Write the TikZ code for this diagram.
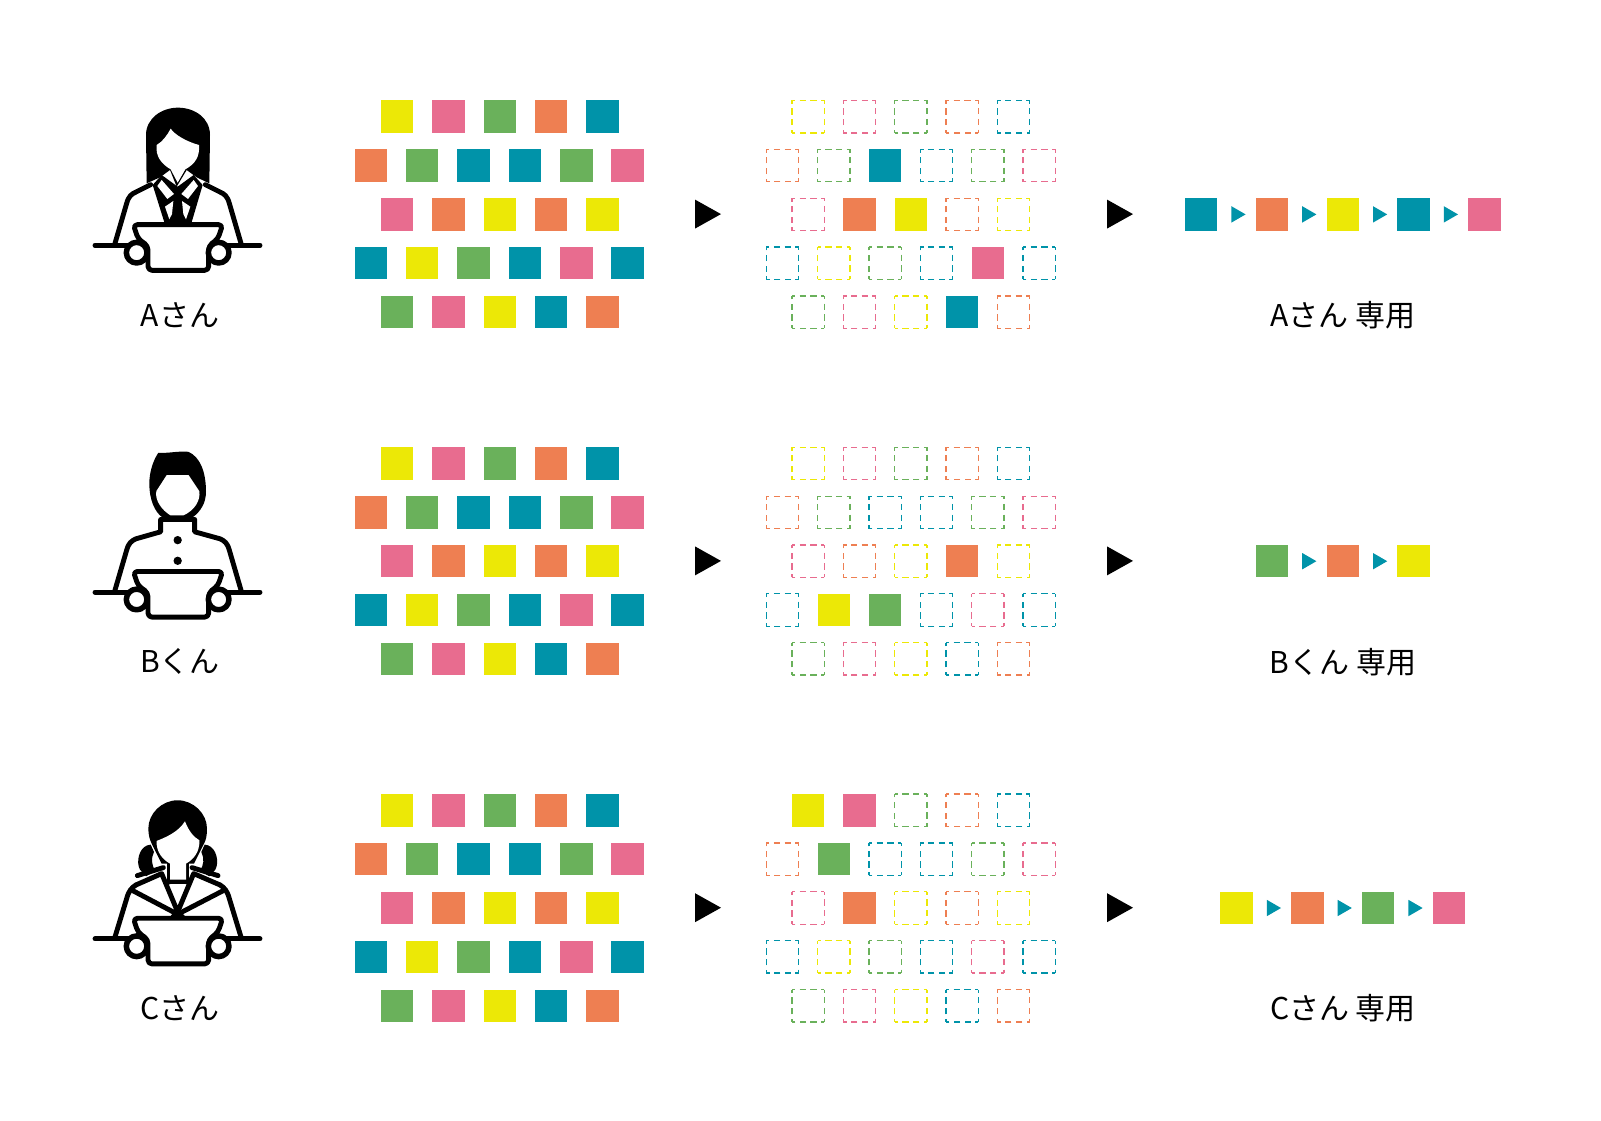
\documentclass[tikz,border=0pt]{standalone}
\usepackage{fontspec}
\setmainfont{Noto Sans CJK JP}
\definecolor{cY}{HTML}{ECE806}
\definecolor{cP}{HTML}{E86C8F}
\definecolor{cG}{HTML}{6AB15B}
\definecolor{cO}{HTML}{EE7F52}
\definecolor{cT}{HTML}{0093A9}
\tikzset{
  sq/.style={fill=#1,draw=none,minimum size=32.4pt,inner sep=0pt,outer sep=0pt,anchor=north west},
  dsq/.style={draw=none,fill=none,minimum size=32.4pt,inner sep=0pt,outer sep=0pt,anchor=north west},
  dedge/.style={draw=#1,line width=1.25pt,dash pattern=on 6.3pt off 4.4pt,dash phase=3.05pt},
  lbl/.style={font=\fontsize{30}{33}\selectfont,text=black,inner sep=0pt},
  ink/.style={draw=black,line width=4.9pt,line cap=round,line join=round},
  icon/.style={x=0.33333pt,y=-0.33333pt},
  bigarrow/.style={fill=black,draw=none},
  smallarrow/.style={fill=cT,draw=none},
}
% dashed square: #1 name, #2 x, #3 y, #4 colour
\newcommand{\dashsq}[4]{%
  \node[dsq] (#1) at (#2,#3) {};
  \draw[dedge=#4] (#1.north west) -- (#1.north east);
  \draw[dedge=#4] (#1.north east) -- (#1.south east);
  \draw[dedge=#4] (#1.south east) -- (#1.south west);
  \draw[dedge=#4] (#1.south west) -- (#1.north west);
}
% shared part of all three figures
\newcommand{\deskpart}{%
  \draw[ink] (45,466) -- (540,466);
  \filldraw[ink,fill=white,rounded corners=4pt] (160,404) -- (428,404) -- (414,446) -- (386,468) -- (386,541) -- (204,541) -- (204,468) -- (174,446) -- cycle;
  \filldraw[ink,fill=white,line width=5.5pt] (170,488) circle (31);
  \filldraw[ink,fill=white,line width=5.5pt] (416,488) circle (31);
}
\begin{document}
\begin{tikzpicture}[x=1pt,y=-1pt]
\useasboundingbox (0,0) rectangle (1601,1121);
\fill[white] (0,0) rectangle (1601,1121);

\foreach \g/\oy in {1/0,2/346.8,3/693.6}{
  \foreach \r/\rn/\cols in {1/1/{Y,P,G,O,T},2/2/{O,G,T,T,G,P},3/3/{P,O,Y,O,Y},4/4/{T,Y,G,T,P,T},5/5/{G,P,Y,T,O}}{
    \pgfmathsetmacro{\yy}{100.5+(\r-1)*48.85+\oy}
    \pgfmathsetmacro{\xa}{mod(\r,2)==1 ? 380.8 : 354.7}
    \pgfmathsetmacro{\xb}{mod(\r,2)==1 ? 792.0 : 766.2}
    \foreach \c [count=\i] in \cols {
      \pgfmathsetmacro{\xx}{\xa+(\i-1)*51.35}
      \node[sq=c\c] (m\g r\r c\i) at (\xx,\yy) {};
      \pgfmathsetmacro{\xz}{\xb+(\i-1)*51.35}
      % filled picks in the second column
      \edef\key{\g-\r-\i}
      \foreach \k in {1-2-3,1-3-2,1-3-3,1-4-5,1-5-4,2-3-4,2-4-2,2-4-3,3-1-1,3-1-2,3-2-2,3-3-2}{
        \ifx\k\key\global\let\gfilled\k\fi
      }
      \ifdefined\gfilled
        \ifx\gfilled\key
          \node[sq=c\c] (p\g r\r c\i) at (\xz,\yy) {};
        \else
          \dashsq{p\g r\r c\i}{\xz}{\yy}{c\c}
        \fi
      \else
        \dashsq{p\g r\r c\i}{\xz}{\yy}{c\c}
      \fi
    }
  }
  % big arrows
  \pgfmathsetmacro{\ay}{214.1+\oy}
  \coordinate (ba\g) at (695,\ay);
  \coordinate (bb\g) at (1107,\ay);
  \fill[bigarrow] (ba\g) ++(0,-14.5) -- ++(26,14.5) -- ++(-26,14.5) -- cycle;
  \fill[bigarrow] (bb\g) ++(0,-14.5) -- ++(26,14.5) -- ++(-26,14.5) -- cycle;
}

% result chains
\newcommand{\chain}[3]{% #1 group, #2 start x, #3 colours
  \pgfmathsetmacro{\cy}{198.2+(#1-1)*346.8}
  \foreach \c [count=\i] in {#3}{
    \pgfmathsetmacro{\xx}{#2+(\i-1)*70.8}
    \node[sq=c\c] (r#1c\i) at (\xx,\cy) {};
  }
}
\chain{1}{1185}{T,O,Y,T,P}
\chain{2}{1255.8}{G,O,Y}
\chain{3}{1220.4}{Y,O,G,P}
\foreach \a/\b in {r1c1/r1c2,r1c2/r1c3,r1c3/r1c4,r1c4/r1c5,r2c1/r2c2,r2c2/r2c3,r3c1/r3c2,r3c2/r3c3,r3c3/r3c4}{
  \fill[smallarrow] (\a.east) ++(14,-8.2) -- ++(14.2,8.2) -- ++(-14.2,8.2) -- cycle;
}

% labels
\node[lbl] (la) at (180,315) {Aさん};
\node[lbl] (lb) at (180,661.8) {Bくん};
\node[lbl] (lc) at (180,1008.6) {Cさん};
\node[lbl] (ra) at (1343,315) {Aさん 専用};
\node[lbl] (rb) at (1343,661.8) {Bくん 専用};
\node[lbl] (rc) at (1343,1008.6) {Cさん 専用};

% Person A
\begin{scope}[shift={(80,90)},icon]
  \draw[ink] (105,460) -- (140,340) .. controls (146,318) and (155,312) .. (168,306) -- (212,284);
  \draw[ink] (483,460) -- (448,340) .. controls (442,318) and (433,312) .. (420,306) -- (376,284);
  \fill[black] (218,285) -- (245,255) -- (293,290) -- (341,255) -- (368,285) -- (334,400) -- (254,400) -- cycle;
  \fill[white] (245,270) -- (282,312) -- (262,327) -- (232,288) -- cycle;
  \fill[white] (341,270) -- (304,312) -- (324,327) -- (354,288) -- cycle;
  \fill[white] (255,350) -- (280,333) -- (276,372) -- (268,388) -- cycle;
  \fill[white] (331,350) -- (306,333) -- (310,372) -- (318,388) -- cycle;
  \fill[black] (200,280) -- (198,135) .. controls (198,85) and (245,53) .. (294,53) .. controls (345,53) and (390,85) .. (390,135) -- (388,280) -- (350,262) -- (320,240) -- (290,290) -- (270,240) -- (240,262) -- cycle;
  \fill[white] (272,116) .. controls (285,135) and (320,155) .. (357,165) .. controls (360,200) and (345,222) .. (316,238) -- (293,278) -- (272,238) .. controls (245,222) and (226,200) .. (230,165) .. controls (248,155) and (262,135) .. (272,116) -- cycle;
  \deskpart
\end{scope}

% Person B
\begin{scope}[shift={(80,436.8)},icon]
  \draw[ink] (105,460) -- (140,340) .. controls (146,318) and (155,312) .. (168,306) -- (242,285) -- (242,248) -- (344,248) -- (344,285) -- (420,306) .. controls (433,312) and (442,318) .. (448,340) -- (483,460);
  \fill[black] (235,48) .. controls (265,50) and (295,42) .. (325,45) .. controls (360,60) and (378,105) .. (378,165) .. controls (378,200) and (360,225) .. (340,240) -- (245,240) .. controls (225,225) and (208,190) .. (208,140) .. controls (208,105) and (220,70) .. (235,48) -- cycle;
  \fill[white] (260,115) -- (326,115) -- (358,163) .. controls (362,190) and (345,220) .. (310,236) -- (272,236) .. controls (245,220) and (224,190) .. (229,163) -- cycle;
  \fill[black] (293,310) circle (12.5);
  \fill[black] (293,372) circle (12.5);
  \deskpart
\end{scope}

% Person C
\begin{scope}[shift={(80,783.6)},icon]
  \fill[black] (212,183) .. controls (182,185) and (170,222) .. (176,248) .. controls (178,262) and (192,268) .. (198,278) -- (226,262) .. controls (215,245) and (212,225) .. (222,205) -- cycle;
  \fill[black] (374,183) .. controls (404,185) and (416,222) .. (410,248) .. controls (408,262) and (394,268) .. (388,278) -- (360,262) .. controls (371,245) and (374,225) .. (364,205) -- cycle;
  \draw[ink] (172,276) -- (250,252);
  \draw[ink] (414,276) -- (336,252);
  \draw[ink] (105,460) -- (140,345) .. controls (146,322) and (155,312) .. (168,304);
  \draw[ink] (483,460) -- (448,345) .. controls (442,322) and (433,312) .. (420,304);
  \draw[ink] (168,304) -- (245,270) -- (293,385) -- (341,270) -- (420,304);
  \draw[ink] (160,322) -- (293,392) -- (428,322);
  \draw[ink] (266,295) -- (320,295);
  \draw[ink] (268,240) -- (268,295);
  \draw[ink] (320,240) -- (320,295);
  \fill[black] (293,375) -- (322,405) -- (264,405) -- cycle;
  \fill[black] (293,50) .. controls (245,50) and (205,90) .. (205,135) .. controls (205,155) and (210,170) .. (215,180) -- (245,240) -- (342,240) -- (372,180) .. controls (378,170) and (381,155) .. (381,135) .. controls (381,90) and (340,50) .. (293,50) -- cycle;
  \fill[white] (315,113) .. controls (325,140) and (340,160) .. (358,170) .. controls (360,205) and (340,228) .. (318,240) -- (318,288) -- (270,288) -- (270,240) .. controls (248,228) and (228,205) .. (230,172) .. controls (260,160) and (295,145) .. (315,113) -- cycle;
  \deskpart
\end{scope}
\end{tikzpicture}
\end{document}
